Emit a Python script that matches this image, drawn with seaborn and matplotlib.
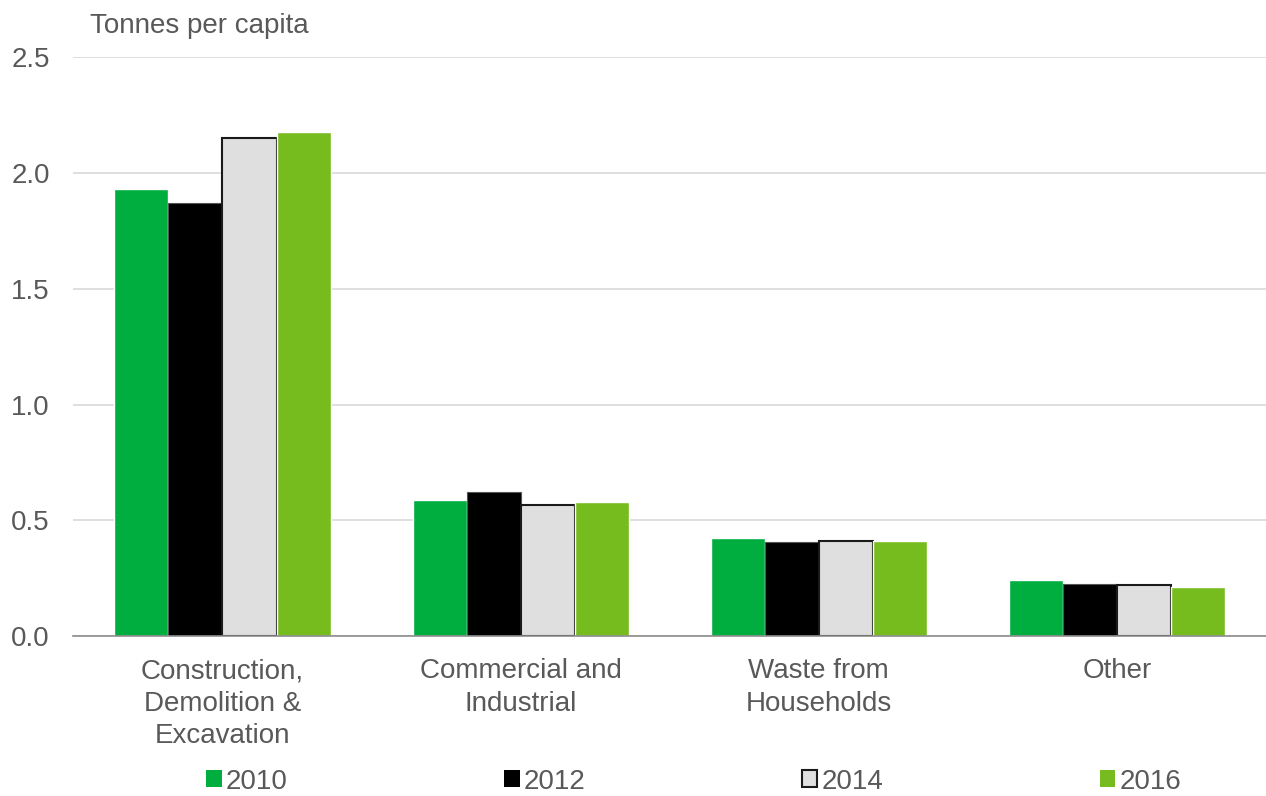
import pandas as pd
import numpy as np
import matplotlib
matplotlib.use("Agg")
import matplotlib.pyplot as plt
import seaborn as sns
from matplotlib.patches import Patch

# data
categories = ["Construction,\nDemolition &\nExcavation", "Commercial and\nIndustrial",
              "Waste from\nHouseholds", "Other"]
years = ["2010", "2012", "2014", "2016"]
v2010 = [1.93, 0.587, 0.423, 0.244]
v2012 = [1.87, 0.62, 0.408, 0.225]
v2014 = [2.15, 0.566, 0.412, 0.22]
v2016 = [2.176, 0.579, 0.41, 0.212]

df = pd.DataFrame({
    "category": categories * 4,
    "year": [y for y in years for _ in categories],
    "value": v2010 + v2012 + v2014 + v2016,
})

sns.set_theme(style="white")
plt.rcParams["font.family"] = ["Liberation Sans", "DejaVu Sans"]
TXT = "#595959"
FS = 20
palette = {"2010": "#00AD3F", "2012": "#000000", "2014": "#DFDFDF", "2016": "#77BC1F"}

fig = plt.figure(figsize=(12.66, 7.96), dpi=100)
ax = fig.add_axes([0.058, 0.201, 0.942, 0.727])

sns.barplot(data=df, x="category", y="value", hue="year", palette=palette,
            width=0.725, gap=0, saturation=1, ax=ax, legend=False)
for patch in ax.containers[2]:
    patch.set_edgecolor("#1a1a1a"); patch.set_linewidth(1.5)
for patch in ax.containers[1]:
    patch.set_edgecolor("#555555"); patch.set_linewidth(0.8)

ax.set_ylim(0, 2.5)
ax.set_xlim(-0.5, 3.5)
ax.set_yticks(np.arange(0, 2.51, 0.5))
ax.set_yticklabels([f"{v:.1f}" for v in np.arange(0, 2.51, 0.5)])
ax.yaxis.grid(True, color="#D9D9D9", linewidth=1.2)
ax.set_axisbelow(True)
for s in ["top", "right", "left"]:
    ax.spines[s].set_visible(False)
ax.spines["bottom"].set_color("#8C8C8C")
ax.spines["bottom"].set_linewidth(1.2)
ax.set_xlabel(""); ax.set_ylabel("")
ax.tick_params(axis="y", length=0, labelsize=FS, labelcolor=TXT, pad=17)
ax.tick_params(axis="x", which="major", length=0, labelsize=FS, labelcolor=TXT, pad=16)
ax.set_xticks([-0.5, 0.5, 1.5, 2.5, 3.5], minor=True)
ax.tick_params(axis="x", which="minor", length=9, color="#8C8C8C", width=1.2, direction="out")
for lbl in ax.get_xticklabels():
    lbl.set_linespacing(1.32)

fig.text(0.071, 0.967, "Tonnes per capita", fontsize=FS, color=TXT, va="center", ha="left")

handles = [Patch(facecolor=palette[y], edgecolor=("#1a1a1a" if y == "2014" else palette[y]),
                 linewidth=1.5 if y == "2014" else 0) for y in years]
fig.legend(handles, years, loc="center", bbox_to_anchor=(0.548, 0.018), ncol=4, frameon=False,
           fontsize=FS, labelcolor=TXT, handlelength=0.55, handleheight=0.55,
           handletextpad=0.15, columnspacing=7.8)

plt.savefig("out.png", dpi=100)
